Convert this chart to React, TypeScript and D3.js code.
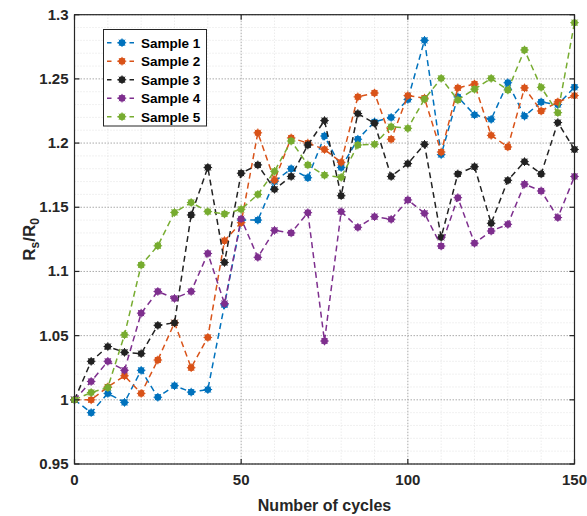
import React from "react";
import * as d3 from "d3";

const cycles = d3.range(0, 151, 5);

const sample1 = [1.0, 0.99, 1.005, 0.998, 1.023, 1.002, 1.011, 1.006, 1.008, 1.074, 1.14, 1.14, 1.17, 1.18, 1.173, 1.2055, 1.181, 1.203, 1.2165, 1.22, 1.234, 1.28, 1.191, 1.236, 1.222, 1.2185, 1.247, 1.221, 1.232, 1.23, 1.2435];
const sample2 = [1.0, 1.0, 1.01, 1.0187, 1.005, 1.031, 1.06, 1.025, 1.0486, 1.124, 1.138, 1.208, 1.171, 1.204, 1.2, 1.195, 1.185, 1.236, 1.239, 1.203, 1.237, 1.235, 1.193, 1.243, 1.246, 1.206, 1.197, 1.243, 1.225, 1.232, 1.237];
const sample3 = [1.0, 1.03, 1.0415, 1.037, 1.036, 1.058, 1.06, 1.144, 1.181, 1.107, 1.1765, 1.183, 1.164, 1.174, 1.1985, 1.2175, 1.159, 1.223, 1.2155, 1.174, 1.184, 1.199, 1.1266, 1.176, 1.1816, 1.1375, 1.171, 1.1855, 1.176, 1.216, 1.195];
const sample4 = [1.0, 1.0143, 1.03, 1.023, 1.0675, 1.0844, 1.079, 1.0844, 1.114, 1.075, 1.141, 1.111, 1.132, 1.13, 1.1458, 1.0458, 1.1466, 1.1344, 1.1427, 1.1406, 1.1557, 1.1453, 1.1198, 1.1575, 1.122, 1.1315, 1.1367, 1.168, 1.1627, 1.142, 1.174];
const sample5 = [1.0, 1.0057, 1.0096, 1.0506, 1.105, 1.12, 1.146, 1.1537, 1.1466, 1.1448, 1.1484, 1.16, 1.178, 1.2016, 1.183, 1.175, 1.1733, 1.1985, 1.199, 1.2128, 1.2115, 1.2343, 1.2504, 1.2336, 1.242, 1.2504, 1.2413, 1.2725, 1.2434, 1.2237, 1.2938];

const seriesNames = ["Sample 1", "Sample 2", "Sample 3", "Sample 4", "Sample 5"];
const seriesValues = [sample1, sample2, sample3, sample4, sample5];
const seriesColors = ["#0072BD", "#D95319", "#222222", "#7E2F8E", "#77AC30"];

const xTicks = [0, 50, 100, 150];
const yTicks = [0.95, 1, 1.05, 1.1, 1.15, 1.2, 1.25, 1.3];
const yTickLabels = ["0.95", "1", "1.05", "1.1", "1.15", "1.2", "1.25", "1.3"];

const W = 587, H = 516;
const left = 74.5, right = 574.5, top = 14.7, bottom = 464;

function Marker({ x, y, color }: { x: number; y: number; color: string }) {
  const r = 4.3;
  const d = r * 0.7071;
  return (
    <g>
      <circle cx={x} cy={y} r={3.4} fill={color} />
      <path
        d={`M${x - r},${y}H${x + r}M${x},${y - r}V${y + r}M${x - d},${y - d}L${x + d},${y + d}M${x - d},${y + d}L${x + d},${y - d}`}
        stroke={color}
        strokeWidth={1}
      />
    </g>
  );
}

export default function App() {
  const x = d3.scaleLinear().domain([0, 150]).range([left, right]);
  const y = d3.scaleLinear().domain([0.95, 1.3]).range([bottom, top]);
  const line = d3
    .line<[number, number]>()
    .x((d) => x(d[0]))
    .y((d) => y(d[1]));

  const minorX = d3.range(0, 151, 10).filter((v) => v % 50 !== 0);
  const minorY = d3.range(0.95, 1.3001, 0.01).filter((v) => Math.abs(Math.round(v * 20) - v * 20) > 1e-6);
  const font = "'Liberation Sans', Arial, sans-serif";

  return (
    <svg width={W} height={H} style={{ position: "absolute", left: 0, top: 0 }} fontFamily={font}>
      <rect x={0} y={0} width={W} height={H} fill="#fff" />
      {/* minor grid */}
      <g stroke="#d0d0d0" strokeWidth={0.6} strokeDasharray="1,2">
        {minorX.map((v) => (
          <line key={"mx" + v} x1={x(v)} x2={x(v)} y1={top} y2={bottom} />
        ))}
        {minorY.map((v, i) => (
          <line key={"my" + i} x1={left} x2={right} y1={y(v)} y2={y(v)} />
        ))}
      </g>
      {/* major grid */}
      <g stroke="#a0a0a0" strokeWidth={0.9} strokeDasharray="1.5,1.5">
        {xTicks.map((v) => (
          <line key={"gx" + v} x1={x(v)} x2={x(v)} y1={top} y2={bottom} />
        ))}
        {yTicks.map((v) => (
          <line key={"gy" + v} x1={left} x2={right} y1={y(v)} y2={y(v)} />
        ))}
      </g>
      {/* series */}
      {seriesValues.map((vals, i) => {
        const pts = cycles.map((c, j) => [c, vals[j]] as [number, number]);
        return (
          <g key={seriesNames[i]}>
            <path d={line(pts) || ""} fill="none" stroke={seriesColors[i]} strokeWidth={1.5} strokeDasharray="6,4" />
            {pts.map((p, j) => (
              <Marker key={j} x={x(p[0])} y={y(p[1])} color={seriesColors[i]} />
            ))}
          </g>
        );
      })}
      {/* axes box */}
      <rect x={left} y={top} width={right - left} height={bottom - top} fill="none" stroke="#262626" strokeWidth={1.2} />
      <g stroke="#262626" strokeWidth={1.2}>
        {xTicks.map((v) => (
          <g key={"tx" + v}>
            <line x1={x(v)} x2={x(v)} y1={bottom} y2={bottom - 5} />
            <line x1={x(v)} x2={x(v)} y1={top} y2={top + 5} />
          </g>
        ))}
        {yTicks.map((v) => (
          <g key={"ty" + v}>
            <line x1={left} x2={left + 5} y1={y(v)} y2={y(v)} />
            <line x1={right} x2={right - 5} y1={y(v)} y2={y(v)} />
          </g>
        ))}
      </g>
      {/* tick labels */}
      <g fontSize={15} fontWeight="bold" fill="#262626">
        {xTicks.map((v) => (
          <text key={"lx" + v} x={x(v)} y={bottom + 21} textAnchor="middle">
            {v}
          </text>
        ))}
        {yTicks.map((v, i) => (
          <text key={"ly" + v} x={left - 6} y={y(v) + 5} textAnchor="end">
            {yTickLabels[i]}
          </text>
        ))}
      </g>
      <text x={(left + right) / 2} y={511} textAnchor="middle" fontSize={16} fontWeight="bold" fill="#262626">
        Number of cycles
      </text>
      <text transform={`translate(35,${(top + bottom) / 2}) rotate(-90)`} textAnchor="middle" fontSize={17} fontWeight="bold" fill="#262626">
        <tspan>R</tspan>
        <tspan fontSize={12} dy={4}>s</tspan>
        <tspan dy={-4}>/R</tspan>
        <tspan fontSize={12} dy={4}>0</tspan>
      </text>
      {/* legend */}
      <g>
        <rect x={103.5} y={29.5} width={103} height={96.5} fill="#fff" stroke="#262626" strokeWidth={1} />
        {seriesNames.map((name, i) => {
          const ly = 42.7 + i * 18.5;
          return (
            <g key={"lg" + name}>
              <line x1={107} x2={137} y1={ly} y2={ly} stroke={seriesColors[i]} strokeWidth={1.5} strokeDasharray="4.5,6,6,6" />
              <Marker x={122} y={ly} color={seriesColors[i]} />
              <text x={141} y={ly + 5} fontSize={13.5} fontWeight="bold" fill="#000">
                {name}
              </text>
            </g>
          );
        })}
      </g>
    </svg>
  );
}
